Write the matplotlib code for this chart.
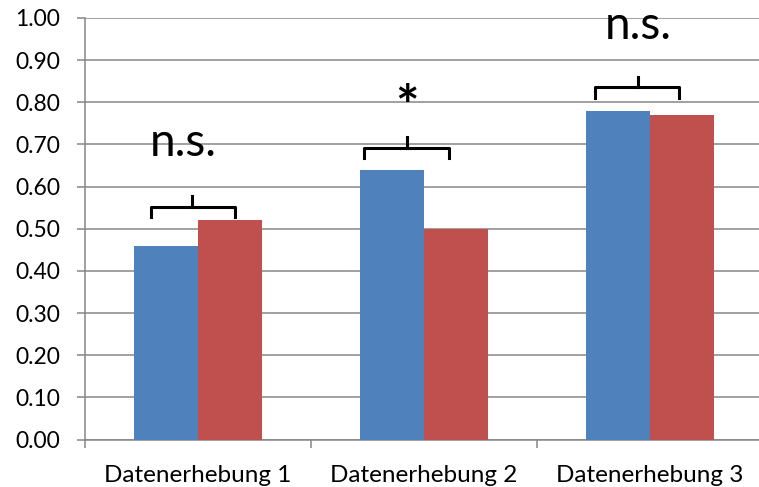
import numpy as np
import matplotlib
matplotlib.use("Agg")
import matplotlib.pyplot as plt

# ── Daten ─────────────────────────────────────────────────────────────
kategorien = ["Datenerhebung 1", "Datenerhebung 2", "Datenerhebung 3"]
werte_blau = [0.46, 0.64, 0.78]
werte_rot  = [0.52, 0.50, 0.77]
signif     = ["n.s.", "*", "n.s."]

# Klammern: (links, mitte, rechts) in x-Daten, Höhe oben
klammer_x = [(-0.21, -0.027, 0.164), (0.735, 0.925, 1.111), (1.757, 1.947, 2.128)]
klammer_y = [0.552, 0.692, 0.836]
text_x    = [-0.066, 0.925, 1.947]
text_y    = [0.673, 0.785, 0.950]

BLAU  = "#4F81BD"
ROT   = "#C0504D"
GRAU  = "#868686"

plt.rcParams["font.family"] = ["Lato", "DejaVu Sans"]

fig = plt.figure(figsize=(7.59, 4.87), dpi=100)
ax = fig.add_axes([85 / 759, 1 - 439.5 / 487, 678 / 759, 421.5 / 487])

x = np.arange(len(kategorien))
b = 0.283
ax.bar(x - b / 2, werte_blau, width=b, color=BLAU, zorder=3)
ax.bar(x + b / 2, werte_rot, width=b, color=ROT, zorder=3)

ax.set_xlim(-0.5, 2.5)
ax.set_ylim(0, 1.0)
ax.set_yticks(np.arange(0, 1.01, 0.1))
ax.set_yticklabels([f"{v:.2f}" for v in np.arange(0, 1.01, 0.1)], fontsize=16.5)
ax.yaxis.grid(True, color=GRAU, lw=1.1, zorder=0)
ax.set_axisbelow(True)

ax.set_xticks(x)
ax.set_xticklabels(kategorien, fontsize=17.5)
ax.set_xticks([-0.5, 0.5, 1.5, 2.5], minor=True)
ax.tick_params(axis="x", which="major", length=0, pad=18)
ax.tick_params(axis="x", which="minor", length=6, width=1.1, color=GRAU)
ax.tick_params(axis="y", length=6, width=1.1, color=GRAU, pad=12)

for s in ["top", "right"]:
    ax.spines[s].set_visible(False)
for s in ["left", "bottom"]:
    ax.spines[s].set_color(GRAU)
    ax.spines[s].set_linewidth(1.1)

# Signifikanz-Klammern
d = 0.025
for (l, m, r), yk, t, tx, ty in zip(klammer_x, klammer_y, signif, text_x, text_y):
    ax.plot([l, l, r, r], [yk - d, yk, yk, yk - d], color="black", lw=2.2,
            solid_joinstyle="round", zorder=5, clip_on=False)
    ax.plot([m, m], [yk, yk + d], color="black", lw=2.2, zorder=5, clip_on=False)
    if t == "*":
        ax.text(tx, ty, t, ha="center", va="center", fontsize=40,
                fontweight="bold", zorder=6)
    else:
        ax.text(tx, ty, t, ha="center", va="baseline", fontsize=33, zorder=6)

fig.savefig("out.png", dpi=100, facecolor="white")
